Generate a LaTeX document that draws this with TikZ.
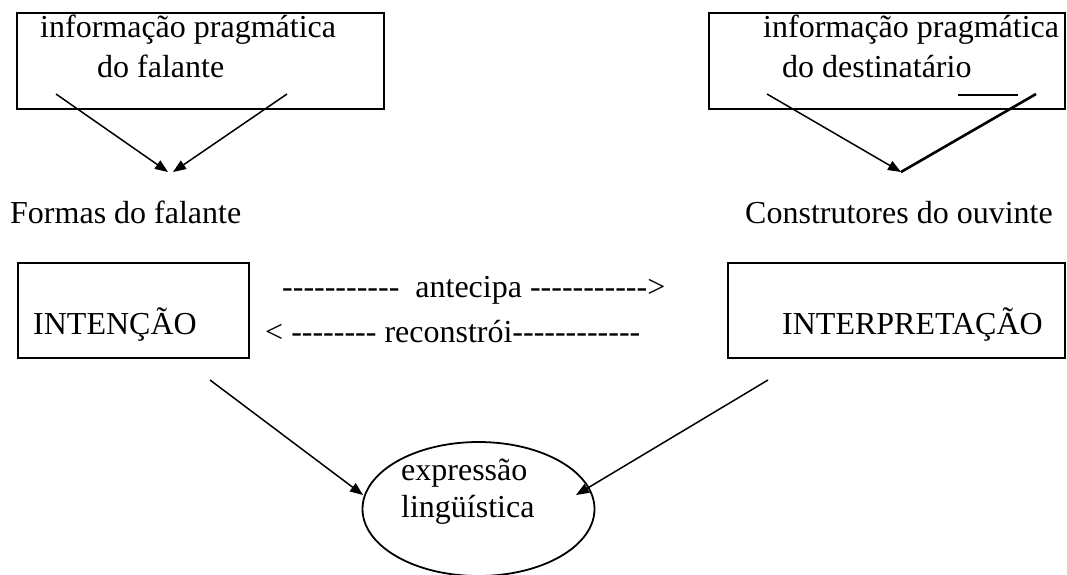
\documentclass[tikz,border=0pt]{standalone}
\usepackage{fontspec}
\setmainfont{Liberation Serif}[Ligatures=TeXOff]
\usetikzlibrary{arrows.meta,shapes.geometric}
\begin{document}
\begin{tikzpicture}[x=1pt,y=-1pt,
  every node/.style={font=\fontsize{32}{38}\selectfont},
  box/.style={draw, line width=1.8pt, rectangle, inner sep=0pt},
  txt/.style={anchor=base west, inner sep=0pt},
  arr/.style={line width=1.5pt, -{Triangle[length=13pt,width=10pt]}},
  heavy/.style={line width=2.6pt}]
\useasboundingbox (0,0) rectangle (1067,574);
% boxes
\node[box, minimum width=367pt, minimum height=96pt] (bl) at (200.5,61) {};
\node[box, minimum width=356pt, minimum height=96pt] (br) at (887,61) {};
\node[box, minimum width=231pt, minimum height=95pt] (bi) at (133.5,310.5) {};
\node[box, minimum width=337pt, minimum height=95pt] (bp) at (896.5,310.5) {};
\node[draw, ellipse, line width=1.8pt, minimum width=232pt, minimum height=134pt, inner sep=0pt] (ell) at (478.5,509) {};
% texts
\node[txt] (t1) at (40,37) {informação pragmática};
\node[txt] (t2) at (97,77) {do falante};
\node[txt] (t3) at (763,37) {informação pragmática};
\node[txt] (t4) at (782,77) {do destinatário};
\node[txt] (f1) at (10,223) {Formas do falante};
\node[txt] (f2) at (745,223) {Construtores do ouvinte};
\node[txt] (int) at (33,334) {INTENÇÃO};
\node[txt] (inp) at (782,334) {INTERPRETAÇÃO};
\node[txt] (ant) at (282,297) {-----------\ \ antecipa ----------->};
\node[txt] (rec) at (265,342) {< -------- reconstrói------------};
\node[txt] (e1) at (401,480) {expressão};
\node[txt] (e2) at (401,517) {lingüística};
% coordinates
\coordinate (a1) at (56,94);
\coordinate (a2) at (287,94);
\coordinate (tipL1) at (168,172);
\coordinate (tipL2) at (173,172);
\coordinate (b1) at (767,94);
\coordinate (b2) at (1036,94);
\coordinate (tipR) at (901,172);
\coordinate (h1) at (958,95);
\coordinate (h2) at (1018,95);
\coordinate (c1) at (210,380);
\coordinate (c2) at (768,380);
\coordinate (tipE1) at (363,495);
\coordinate (tipE2) at (576,495);
% connectors
\draw[arr] (a1) -- (tipL1);
\draw[arr] (a2) -- (tipL2);
\draw[arr] (b1) -- (tipR);
\draw[heavy] (b2) -- (tipR);
\draw[heavy] (h1) -- (h2);
\draw[arr] (c1) -- (tipE1);
\draw[arr] (c2) -- (tipE2);
\end{tikzpicture}
\end{document}
